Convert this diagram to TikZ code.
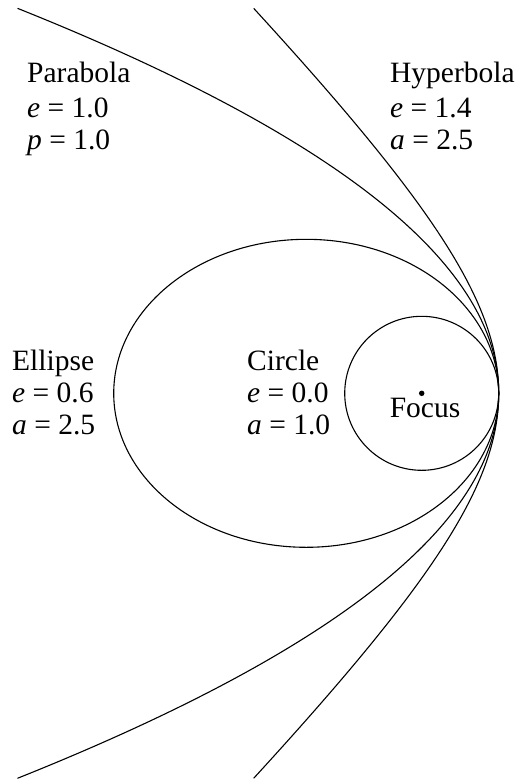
\documentclass[tikz,border=0pt]{standalone}
\usepackage{fontspec}
\setmainfont{Liberation Serif}
\begin{document}
\begin{tikzpicture}[x=77pt,y=77pt,
  curve/.style={line width=1.1pt, black},
  lbl/.style={anchor=base west, inner sep=0pt, font=\fontsize{29.5}{33}\selectfont},
  clbl/.style={anchor=base, inner sep=0pt, font=\fontsize{29.5}{33}\selectfont}]
\useasboundingbox (-5.477,-5.048) rectangle (1.4195,5.108);
% conics sharing focus at origin and periapsis at (1,0)
\draw[curve] plot[domain=-5:5, samples=120, smooth] ({1-\x*\x/4},\x);
\draw[curve] plot[domain=-5:5, samples=120, smooth] ({3.5-2.5*sqrt(1+\x*\x/6)},\x);
\draw[curve] (-1.5,0) ellipse [x radius=2.5, y radius=2];
\draw[curve] (0,0) circle [radius=1];
\node[fill=black, circle, inner sep=0pt, minimum size=5.5pt] (focus) at (0,0) {};
% labels
\node[lbl] (parT) at (-5.126,4.030) {Parabola};
\node[lbl] (parE) at (-5.126,3.588) {\textit{e} = 1.0};
\node[lbl] (parP) at (-5.126,3.160) {\textit{p} = 1.0};
\node[lbl] (hypT) at (-0.412,4.030) {Hyperbola};
\node[lbl] (hypE) at (-0.412,3.588) {\textit{e} = 1.4};
\node[lbl] (hypA) at (-0.412,3.160) {\textit{a} = 2.5};
\node[lbl] (ellT) at (-5.321,0.290) {Ellipse};
\node[lbl] (ellE) at (-5.321,-0.118) {\textit{e} = 0.6};
\node[lbl] (ellA) at (-5.321,-0.540) {\textit{a} = 2.5};
\node[lbl] (cirT) at (-2.269,0.290) {Circle};
\node[lbl] (cirE) at (-2.269,-0.118) {\textit{e} = 0.0};
\node[lbl] (cirA) at (-2.269,-0.540) {\textit{a} = 1.0};
\node[clbl] (focT) at (0.043,-0.308) {Focus};
\end{tikzpicture}
\end{document}
